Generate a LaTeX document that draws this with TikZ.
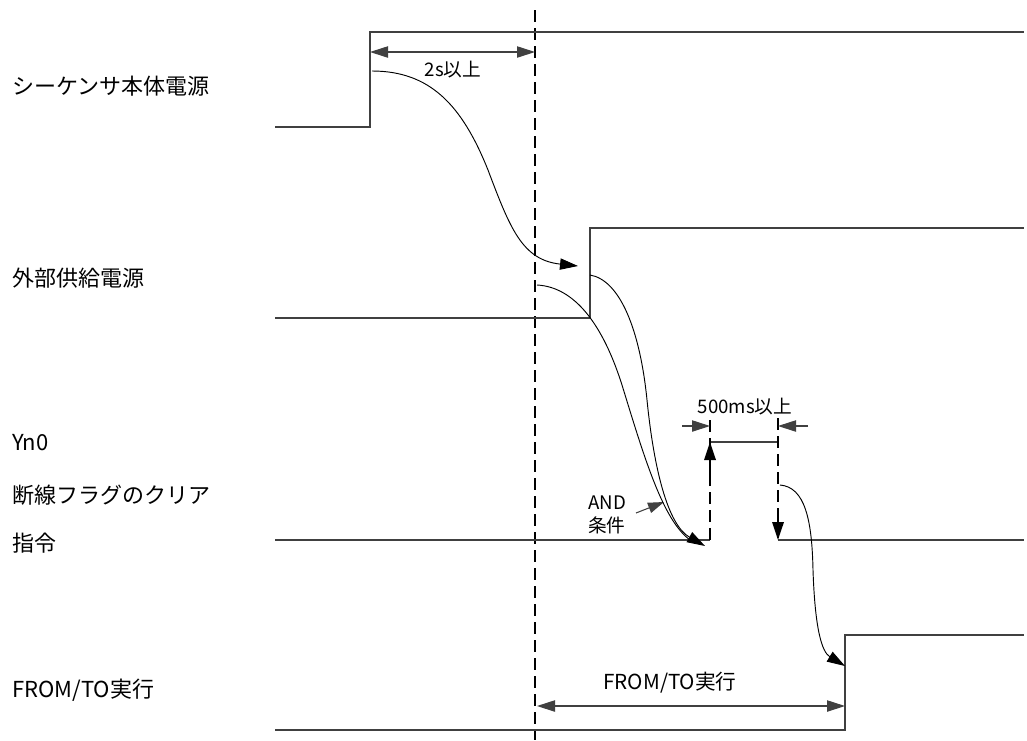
\documentclass[tikz,border=0pt]{standalone}
\usepackage{fontspec}
\setmainfont{Noto Sans CJK JP}
\usetikzlibrary{arrows.meta}
\begin{document}
\begin{tikzpicture}[x=0.75pt,y=-0.75pt,
  sig/.style={line width=0.8pt, draw=black!75},
  cur/.style={line width=0.7pt, draw=black},
  dimline/.style={line width=0.8pt, draw=black!75, {Triangle[length=13.5pt,width=8.5pt]}-{Triangle[length=13.5pt,width=8.5pt]}},
  onearrow/.style={line width=0.8pt, draw=black!75, -{Triangle[length=13.5pt,width=8.5pt]}},
  curarrow/.style={line width=0.7pt, draw=black, -{Triangle[length=13.5pt,width=8.5pt]}},
  bigdash/.style={line width=1.7pt, draw=black, dash pattern=on 9pt off 4.5pt},
  lbl/.style={anchor=west, inner sep=0pt, font=\fontsize{16.5pt}{19pt}\selectfont},
  sml/.style={inner sep=0pt, font=\fontsize{14pt}{17pt}\selectfont},
  mid/.style={inner sep=0pt, font=\fontsize{15.5pt}{18pt}\selectfont}]
\useasboundingbox (0,0) rectangle (1027,740);
% labels
\node[lbl] (l1) at (12,86) {シーケンサ本体電源};
\node[lbl] (l2) at (12,278) {外部供給電源};
\node[lbl] (l3) at (12,443) {Yn0};
\node[lbl] (l4) at (12,495) {断線フラグのクリア};
\node[lbl] (l5) at (12,543) {指令};
\node[lbl] (l6) at (12,690) {FROM/TO実行};
% main dashed line
\coordinate (dt) at (535,10);
\coordinate (db) at (535,740);
\draw[bigdash] (dt) -- (db);
% signal 1
\coordinate (a0) at (275,127); \coordinate (a1) at (370,127);
\coordinate (a2) at (370,32); \coordinate (a3) at (1024,32);
\draw[sig] (a0) -- (a1) -- (a2) -- (a3);
% signal 2
\coordinate (b0) at (275,318); \coordinate (b1) at (590,318);
\coordinate (b2) at (590,228); \coordinate (b3) at (1024,228);
\draw[sig] (b0) -- (b1) -- (b2) -- (b3);
% signal 3 (Yn0)
\coordinate (c0) at (275,540); \coordinate (c1) at (710,540);
\coordinate (c2) at (710,442); \coordinate (c3) at (778,442);
\coordinate (c4) at (778,540); \coordinate (c5) at (1024,540);
\coordinate (c1t) at (710,418); \coordinate (c3t) at (778,418);
\draw[sig] (c0) -- (c1);
\draw[sig] (c2) -- (c3);
\draw[sig] (c4) -- (c5);
\draw[bigdash] (c1) -- (c1t);
\draw[bigdash] (c3t) -- (c4);
\coordinate (c1a) at (710,475);
\coordinate (c3a) at (778,510);
\draw[onearrow, line width=1.7pt, draw=black] (c1a) -- (c2);
\draw[onearrow, line width=1.7pt, draw=black] (c3a) -- (c4);
% signal 4
\coordinate (d0) at (275,730); \coordinate (d1) at (845,730);
\coordinate (d2) at (845,635); \coordinate (d3) at (1024,635);
\draw[sig] (d0) -- (d1) -- (d2) -- (d3);
% dimension 2s
\coordinate (e0) at (370,52); \coordinate (e1) at (535,52);
\draw[dimline] (e0) -- (e1);
\node[sml] (t2s) at (453,70) {2s以上};
% dimension FROM/TO
\coordinate (f0) at (537,706); \coordinate (f1) at (845,706);
\draw[dimline] (f0) -- (f1);
\node[mid] (tft) at (670,683) {FROM/TO実行};
% 500ms
\coordinate (g0) at (682,426); \coordinate (g1) at (710,426);
\coordinate (h0) at (808,426); \coordinate (h1) at (778,426);
\draw[onearrow] (g0) -- (g1);
\draw[onearrow] (h0) -- (h1);
\node[sml] (t500) at (745,407) {500ms以上};
% AND condition
\node[sml, anchor=west] (tand) at (588,503) {AND};
\node[sml, anchor=west] (tjk) at (588,525) {条件};
\coordinate (k0) at (636,513); \coordinate (k1) at (664,502);
\draw[line width=0.8pt, draw=black!75, -{Triangle[length=12pt,width=8pt]}] (k0) -- (k1);
% curves
\coordinate (p0) at (372,71); \coordinate (p1) at (578,266);
\draw[curarrow] (p0) .. controls (430,71) and (462,105) .. (488,170)
  .. controls (510,228) and (522,260) .. (p1);
\coordinate (q0) at (537,285); \coordinate (q1) at (590,275);
\coordinate (qe) at (705,546);
\draw[cur] (q0) .. controls (575,287) and (603,325) .. (622,385)
  .. controls (645,460) and (663,520) .. (690,540);
\draw[curarrow] (q1) .. controls (620,280) and (640,330) .. (647,400)
  .. controls (654,470) and (668,525) .. (qe);
\coordinate (r0) at (780,485); \coordinate (r1) at (845,666);
\draw[curarrow] (r0) .. controls (805,487) and (812,520) .. (813,570)
  .. controls (815,630) and (822,652) .. (r1);
\end{tikzpicture}
\end{document}
